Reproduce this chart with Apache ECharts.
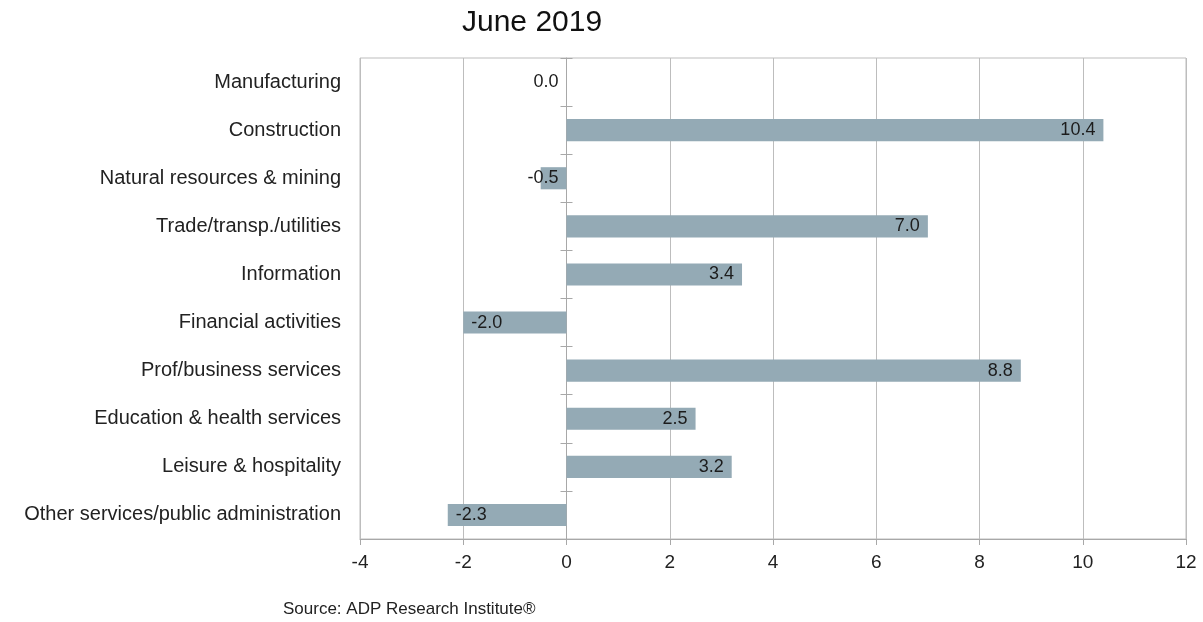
<!DOCTYPE html>
<html>
<head>
<meta charset="utf-8">
<script src="https://cdn.jsdelivr.net/npm/echarts@6/dist/echarts.min.js"></script>
<style>
html,body{margin:0;padding:0;background:#fff;}
#c{width:1203px;height:622px;}
</style>
</head>
<body>
<div id="c"></div>
<script>
var categories = ["Manufacturing","Construction","Natural resources & mining","Trade/transp./utilities","Information","Financial activities","Prof/business services","Education & health services","Leisure & hospitality","Other services/public administration"];
var values = [0.0, 10.4, -0.5, 7.0, 3.4, -2.0, 8.8, 2.5, 3.2, -2.3];
var xTicks = {min: -4, max: 12, interval: 2};
var titleText = "June 2019";
var sourceText = "Source: ADP Research Institute\u00AE";

var font = "Liberation Sans, Arial, sans-serif";
var W = 1203, gridLeft = 360, gridRight = 17;
var plotW = W - gridLeft - gridRight;
// place the category axis line at value 0 of the x axis
var zeroOffset = -plotW * (0 - xTicks.min) / (xTicks.max - xTicks.min);

var chart = echarts.init(document.getElementById('c'));
var barData = values.map(function (v) {
  var pos = v < -1 ? 'insideLeft' : 'insideRight';
  return {value: v, label: {position: pos}};
});
chart.setOption({
  animation: false,
  backgroundColor: '#fff',
  title: [{
    text: titleText, left: 457, top: 3,
    textStyle: {fontFamily: font, fontSize: 30, fontWeight: 'normal', color: '#111'}
  }, {
    text: sourceText, left: 278, top: 596,
    textStyle: {fontFamily: font, fontSize: 17, fontWeight: 'normal', color: '#222'}
  }],
  grid: {left: gridLeft, right: gridRight, top: 58, bottom: 83, show: true, borderColor: '#bdbdbd', borderWidth: 1},
  xAxis: {
    type: 'value', min: xTicks.min, max: xTicks.max, interval: xTicks.interval,
    axisLine: {show: true, onZero: false, lineStyle: {color: '#a8a8a8'}},
    axisTick: {show: true, length: 6, lineStyle: {color: '#a8a8a8'}},
    splitLine: {show: true, lineStyle: {color: '#bdbdbd'}},
    axisLabel: {fontFamily: font, fontSize: 19, color: '#222', margin: 14}
  },
  yAxis: [{
    type: 'category', data: categories, inverse: true, position: 'left',
    axisLine: {show: false, onZero: false}, axisTick: {show: false},
    axisLabel: {fontFamily: font, fontSize: 20, color: '#222', margin: 19}
  }, {
    type: 'category', data: categories, inverse: true, position: 'left', offset: zeroOffset,
    axisLine: {show: true, onZero: false, lineStyle: {color: '#a8a8a8'}},
    axisTick: {show: true, length: 6, inside: false, lineStyle: {color: '#a8a8a8'}},
    axisLabel: {show: false}, splitLine: {show: false}
  }, {
    type: 'category', data: categories, inverse: true, position: 'left', offset: zeroOffset,
    axisLine: {show: false, onZero: false},
    axisTick: {show: true, length: 6, inside: true, lineStyle: {color: '#a8a8a8'}},
    axisLabel: {show: false}, splitLine: {show: false}
  }],
  series: [{
    type: 'bar', yAxisIndex: 0, data: barData,
    barCategoryGap: '54%',
    itemStyle: {color: '#94aab5'},
    label: {show: true, fontFamily: font, fontSize: 18, color: '#1c1c1c', distance: 8,
      formatter: function (p) { return p.value.toFixed(1); }}
  }]
});
</script>
</body>
</html>
